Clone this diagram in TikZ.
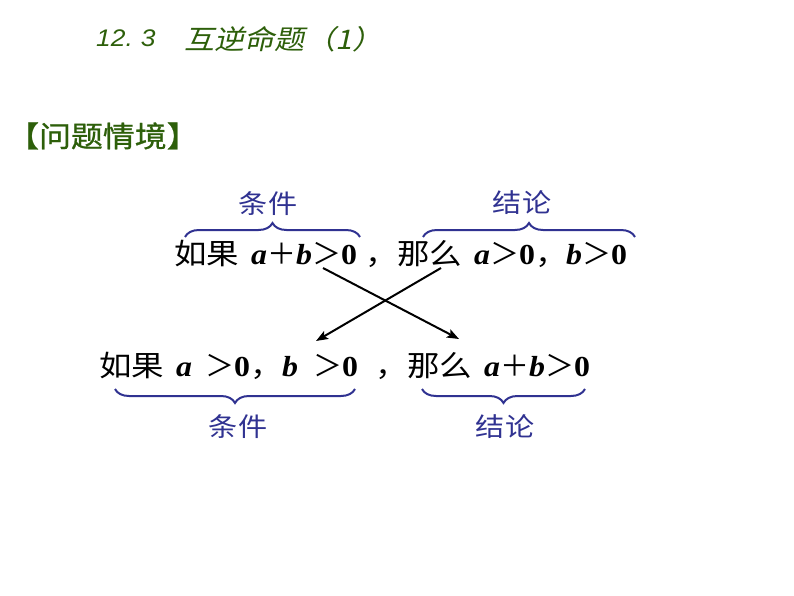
\documentclass[tikz,border=0pt]{standalone}
\usepackage{fontspec}
\usetikzlibrary{decorations.pathreplacing,arrows.meta}
\newfontfamily\cjk[FakeStretch=1.12]{Noto Sans CJK SC}
\newfontfamily\cjksym{Noto Sans CJK SC}
\newfontfamily\cjkhead[FakeStretch=1.1,FakeBold=0.8]{Noto Sans CJK SC}
\newfontfamily\cjkslant[FakeSlant=0.22,FakeStretch=1.12]{Noto Sans CJK SC}
\newfontfamily\lsans[FakeStretch=1.1]{Liberation Sans}
\newfontfamily\lserif[FakeStretch=1.1]{Liberation Serif}
\definecolor{titlegreen}{RGB}{45,95,10}
\definecolor{bracenavy}{RGB}{48,50,145}
\newcommand{\va}{{\lserif\bfseries\itshape a}}
\newcommand{\vb}{{\lserif\bfseries\itshape b}}
\newcommand{\vz}{{\lserif\bfseries 0}}
\newcommand{\sgt}{{\cjksym ＞}}
\newcommand{\spl}{{\cjksym ＋}}

\begin{document}
\begin{tikzpicture}[x=1pt,y=-1pt]
      \useasboundingbox (0,0) rectangle (794,596);
      \tikzset{ln/.style = {anchor=base west, inner sep=0, font=\fontsize{29}{32}\selectfont}}
      \tikzset{lbl/.style = {inner sep=0, text=bracenavy, font=\fontsize{26}{30}\selectfont}}
      \tikzset{brc/.style = {draw=bracenavy, line width=2pt, decorate, decoration={brace,amplitude=14pt}}}
      \tikzset{arr/.style = {draw, line width=2pt, -{Stealth[length=12pt,width=9pt,inset=2.5pt]}}}
      % title and heading
      \node[anchor=base west, inner sep=0, text=titlegreen, font=\fontsize{24}{28}\selectfont] (h0) at (96,47) {\lsans\itshape 12.\,\,3};
      \node[anchor=base west, inner sep=0, text=titlegreen, font=\fontsize{27}{32}\selectfont] (h1) at (184,50) {\cjkslant 互逆命题（1）};
      \node[anchor=base west, inner sep=0, text=titlegreen, font=\fontsize{29}{34}\selectfont] (s0) at (7,147) {\cjkhead 【问题情境】};
      % first statement
      \node[ln](t0) at (174,264) {\cjk 如果};
      \node[ln](t1) at (251,264) {\va\spl\vb\sgt\vz};
      \node[ln](t2) at (365,264) {\cjk ，};
      \node[ln](t3) at (397,264) {\cjk 那么};
      \node[ln](t4) at (474,264) {\va\sgt\vz\cjk ，};
      \node[ln](t5) at (566,264) {\vb\sgt\vz};
      % second statement
      \node[ln](b0) at (99,376) {\cjk 如果};
      \node[ln](b1) at (176,376) {\va};
      \node[ln](b2) at (205,376) {\sgt\vz\cjk ，};
      \node[ln](b3) at (282,376) {\vb};
      \node[ln](b4) at (313,376) {\sgt\vz};
      \node[ln](b5) at (375,376) {\cjk ，};
      \node[ln](b6) at (407,376) {\cjk 那么};
      \node[ln](b7) at (484,376) {\va\spl\vb\sgt\vz};
      % braces and labels
      \draw[brc] (185,237) -- (360,237);
      \draw[brc] (423,237) -- (635,237);
      \draw[brc,decoration={mirror}] (115,389) -- (355,389);
      \draw[brc,decoration={mirror}] (422,389) -- (585,389);
      \node[lbl](k0) at (268,204) {\cjk 条件};
      \node[lbl](k1) at (522,203) {\cjk 结论};
      \node[lbl](k2) at (238,427) {\cjk 条件};
      \node[lbl](k3) at (505,427) {\cjk 结论};
      % crossing arrows
      \coordinate (p0) at (323,268);
      \coordinate (p1) at (459,339);
      \coordinate (q0) at (441,268);
      \coordinate (q1) at (316,341);
      \draw[arr](p0) -- (p1);
      \draw[arr](q0) -- (q1);
\end{tikzpicture}
\end{document}
